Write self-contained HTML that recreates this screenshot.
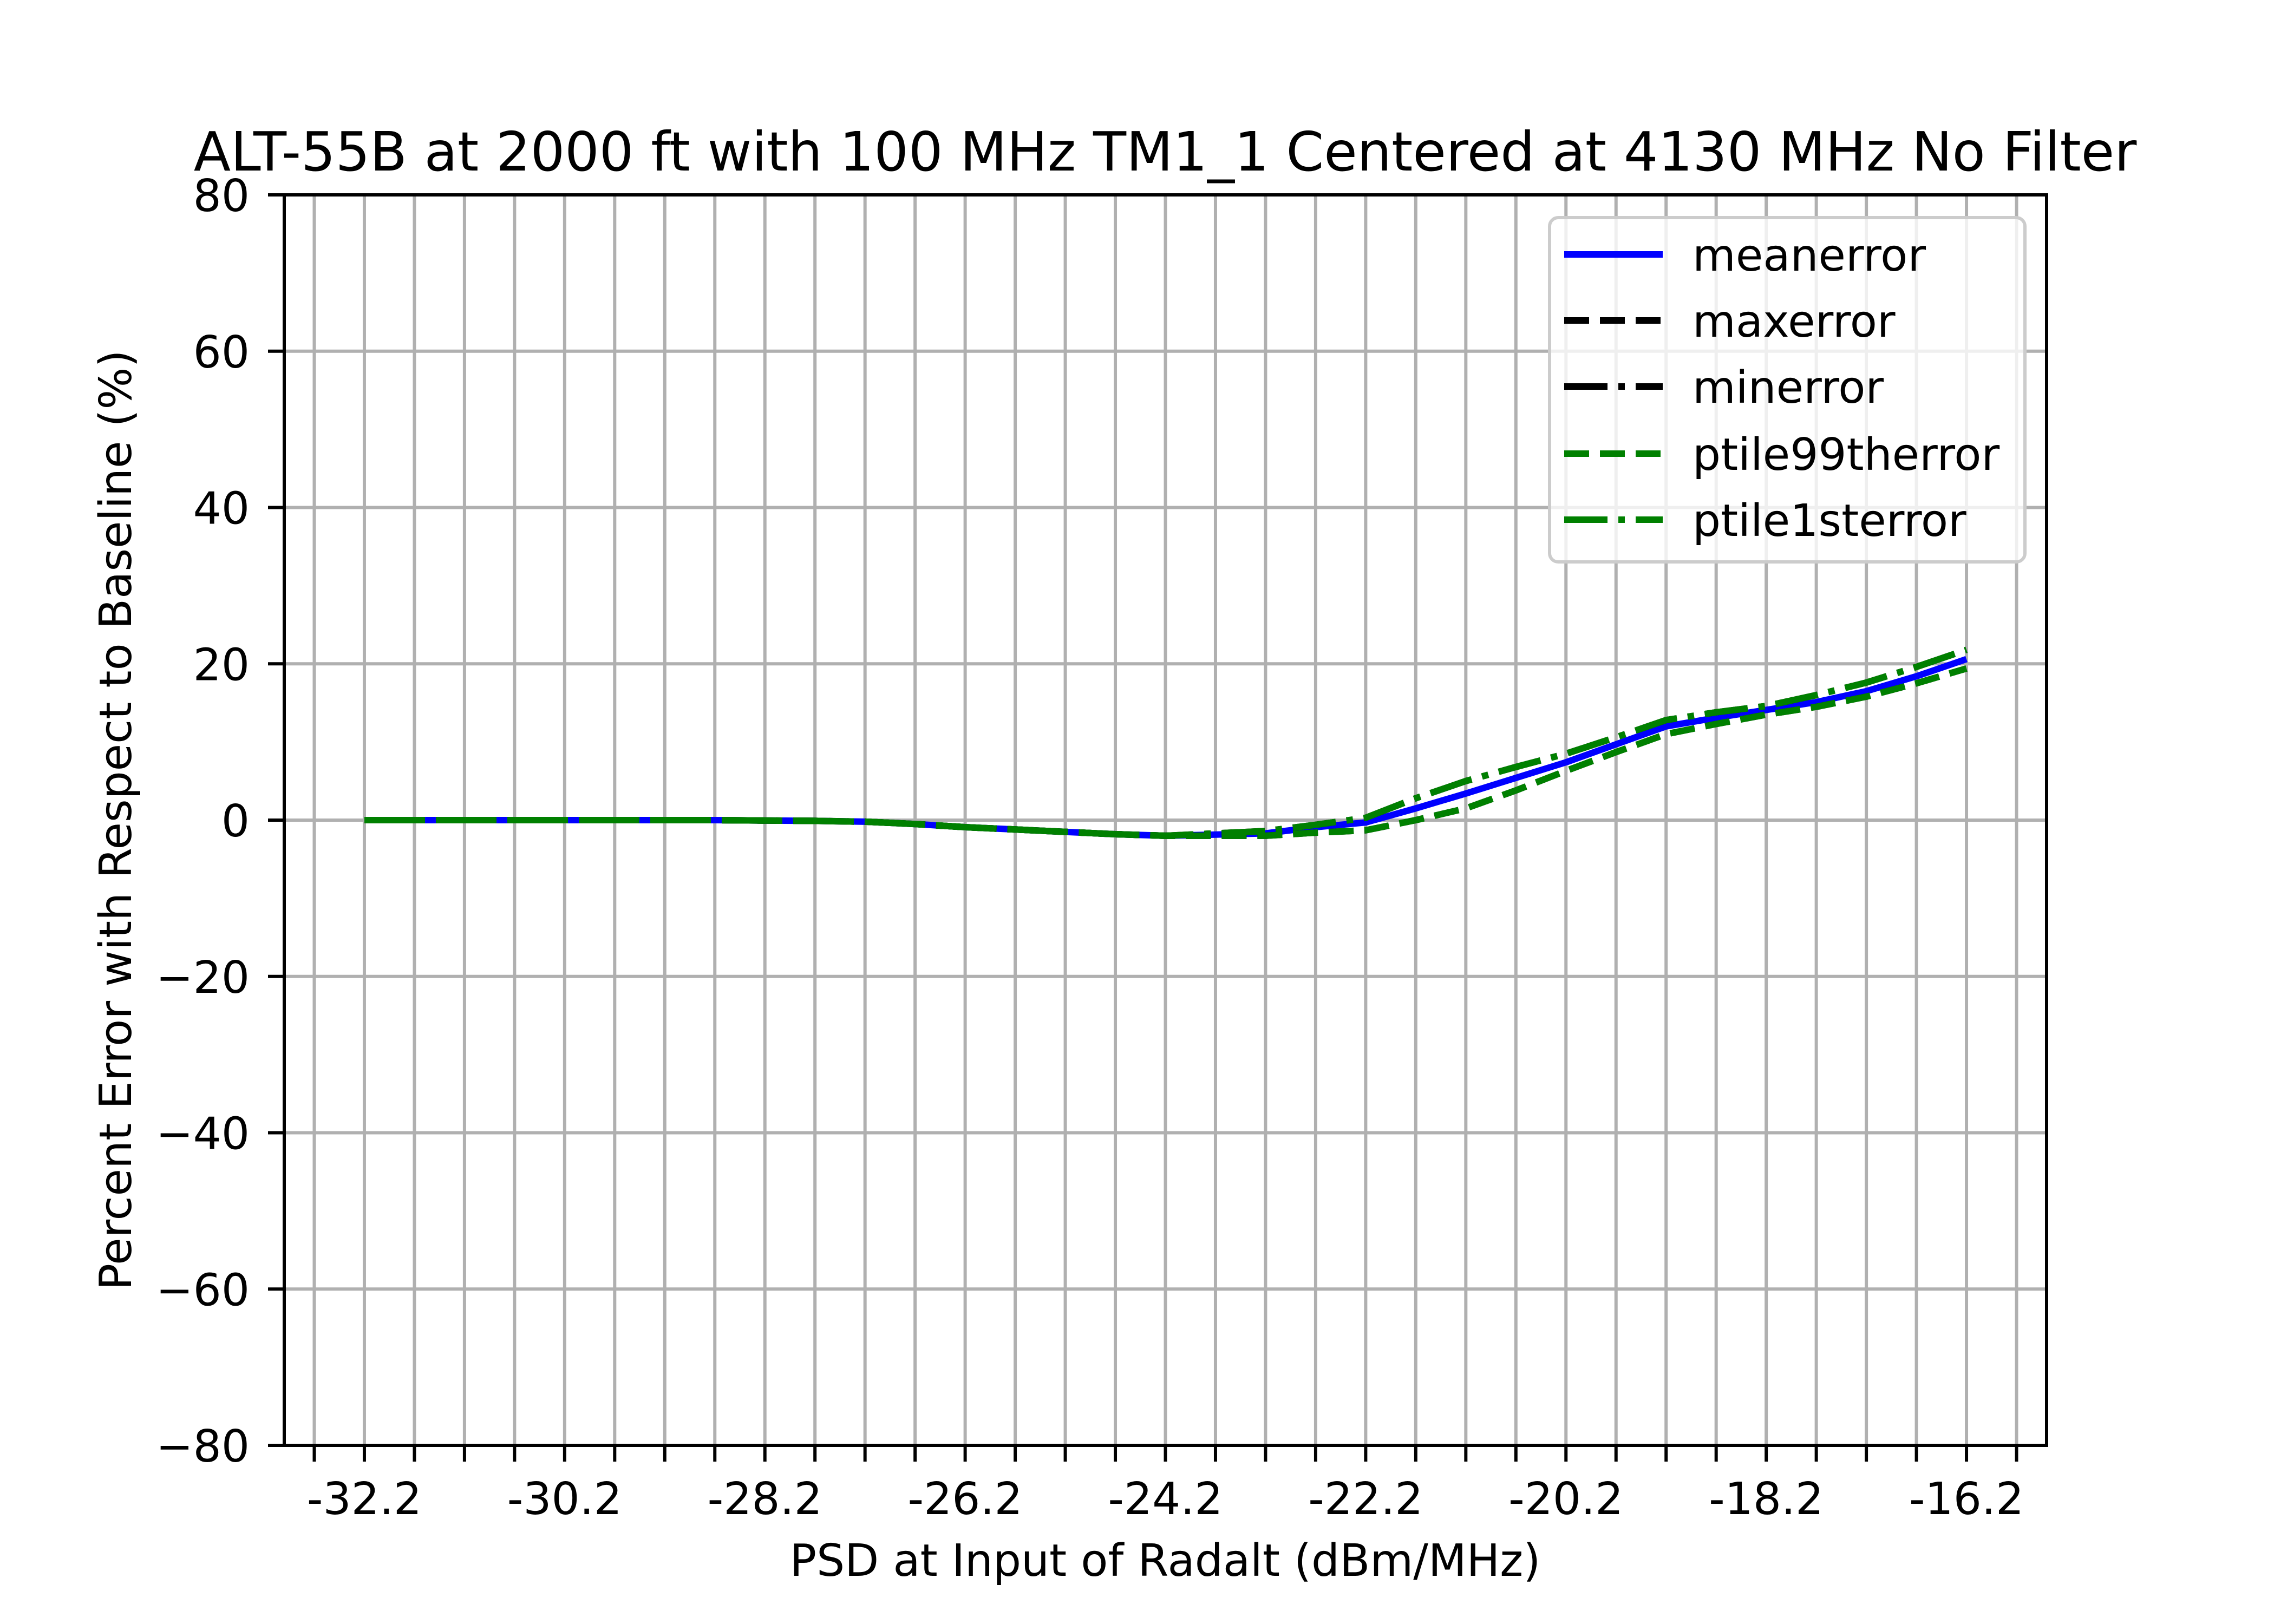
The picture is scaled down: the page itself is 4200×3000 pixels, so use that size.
<!DOCTYPE html>
<html><head><meta charset="utf-8"><style>
html,body{margin:0;padding:0;background:#fff}
svg{display:block;font-family:"DejaVu Sans","Liberation Sans",sans-serif}
</style></head><body>
<svg id="chart" width="4200" height="3000" viewBox="0 0 4200 3000" xmlns="http://www.w3.org/2000/svg">
<rect width="4200" height="3000" fill="#fff"/>
<g id="grid"></g>
<g id="series"></g>
<g id="axes"></g>
<text x="2152" y="315" font-size="100" text-anchor="middle">ALT-55B at 2000 ft with 100 MHz TM1_1 Centered at 4130 MHz No Filter</text>
<text x="2152" y="2911" font-size="82" text-anchor="middle">PSD at Input of Radalt (dBm/MHz)</text>
<text x="0" y="0" font-size="82" text-anchor="middle" transform="translate(242,1515) rotate(-90)">Percent Error with Respect to Baseline (%)</text>
<g id="legend"></g>
</svg>
<script>
const xValues = [-32.2,-31.7,-31.2,-30.7,-30.2,-29.7,-29.2,-28.7,-28.2,-27.7,-27.2,-26.7,-26.2,-25.7,-25.2,-24.7,-24.2,-23.7,-23.2,-22.7,-22.2,-21.7,-21.2,-20.7,-20.2,-19.7,-19.2,-18.7,-18.2,-17.7,-17.2,-16.7,-16.2];
const meanError = [0,0,0,0,0,0,0,0,-0.05,-0.1,-0.2,-0.5,-0.9,-1.2,-1.5,-1.8,-2.0,-1.85,-1.7,-0.9,-0.3,1.5,3.4,5.4,7.4,9.7,12.0,13.1,14.1,15.1,16.5,18.4,20.6];
const maxError = [0,0,0,0,0,0,0,0,-0.05,-0.1,-0.2,-0.5,-0.9,-1.2,-1.5,-1.8,-2.0,-2.0,-2.0,-1.6,-1.3,0,1.5,3.8,6.3,8.7,11.0,12.3,13.5,14.5,15.8,17.5,19.4];
const minError = [0,0,0,0,0,0,0,0,-0.05,-0.1,-0.2,-0.5,-0.9,-1.2,-1.5,-1.8,-2.0,-1.7,-1.4,-0.6,0.3,2.8,5.0,6.8,8.5,10.6,12.8,13.8,14.6,16.0,17.6,19.6,21.8];
const p99Error = [0,0,0,0,0,0,0,0,-0.05,-0.1,-0.2,-0.5,-0.9,-1.2,-1.5,-1.8,-2.0,-2.0,-2.0,-1.6,-1.3,0,1.5,3.8,6.3,8.7,11.0,12.3,13.5,14.5,15.8,17.5,19.4];
const p1Error = [0,0,0,0,0,0,0,0,-0.05,-0.1,-0.2,-0.5,-0.9,-1.2,-1.5,-1.8,-2.0,-1.7,-1.4,-0.6,0.3,2.8,5.0,6.8,8.5,10.6,12.8,13.8,14.6,16.0,17.6,19.6,21.8];
const xTickValues = [-32.7,-32.2,-31.7,-31.2,-30.7,-30.2,-29.7,-29.2,-28.7,-28.2,-27.7,-27.2,-26.7,-26.2,-25.7,-25.2,-24.7,-24.2,-23.7,-23.2,-22.7,-22.2,-21.7,-21.2,-20.7,-20.2,-19.7,-19.2,-18.7,-18.2,-17.7,-17.2,-16.7,-16.2,-15.7];
const xTickLabels = ["-32.2","-30.2","-28.2","-26.2","-24.2","-22.2","-20.2","-18.2","-16.2"];
const yTickValues = [-80,-60,-40,-20,0,20,40,60,80];
const legendLabels = ["meanerror","maxerror","minerror","ptile99therror","ptile1sterror"];

const NS="http://www.w3.org/2000/svg";
const L=525,R=3780,T=360,B=2670,XMIN=-33.0,XMAX=-15.4,YMIN=-80,YMAX=80;
const sx=v=>L+(v-XMIN)/(XMAX-XMIN)*(R-L);
const sy=v=>B-(v-YMIN)/(YMAX-YMIN)*(B-T);
function mk(tag,attrs,parent){const e=document.createElementNS(NS,tag);for(const k in attrs)e.setAttribute(k,attrs[k]);parent.appendChild(e);return e;}
const grid=document.getElementById('grid'),axes=document.getElementById('axes'),series=document.getElementById('series'),legend=document.getElementById('legend');

xTickValues.forEach(v=>{
  const g=mk('line',{x1:sx(v),x2:sx(v),y1:T,y2:B,stroke:'#b0b0b0','stroke-width':6},grid);
  
  
  const t=mk('line',{x1:sx(v),x2:sx(v),y1:B,y2:B+30,stroke:'#000','stroke-width':6},axes);
  
  
});
xTickLabels.forEach(s=>{
  const v=parseFloat(s);
  const t=mk('text',{x:sx(v),y:2797,'font-size':82,'text-anchor':'middle'},axes);
  t.textContent=s;
  
  
});
yTickValues.forEach(v=>{
  const g=mk('line',{x1:L,x2:R,y1:sy(v),y2:sy(v),stroke:'#b0b0b0','stroke-width':6},grid);
  
  
  const t=mk('line',{x1:L-30,x2:L,y1:sy(v),y2:sy(v),stroke:'#000','stroke-width':6},axes);
  
  
  const tx=mk('text',{x:461,y:sy(v)+30,'font-size':82,'text-anchor':'end'},axes);
  tx.textContent=(v<0?'\u2212':'')+Math.abs(v);
  
  
});
const frame=mk('rect',{x:L,y:T,width:R-L,height:B-T,fill:'none',stroke:'#000','stroke-width':6},axes);



const styles=[
  {data:meanError,color:'#0000ff',dash:'',name:'mean-error-line'},
  {data:maxError,color:'#000',dash:'46 20',name:'max-error-line'},
  {data:minError,color:'#000',dash:'80 20 12 20',name:'min-error-line'},
  {data:p99Error,color:'#008000',dash:'46 20',name:'ptile99-error-line'},
  {data:p1Error,color:'#008000',dash:'80 20 12 20',name:'ptile1-error-line'}
];
styles.forEach(s=>{
  const d=s.data.map((v,i)=>(i?'L':'M')+sx(xValues[i]).toFixed(1)+' '+sy(v).toFixed(1)).join(' ');
  const p=mk('path',{d:d,fill:'none',stroke:s.color,'stroke-width':12,'stroke-dasharray':s.dash,'stroke-linejoin':'round'},series);
  
  
});

const box=mk('rect',{x:2862,y:402,width:878,height:636,rx:16,fill:'#fff','fill-opacity':0.8,stroke:'#cccccc','stroke-width':6},legend);


const rowsY=[470,592,714,838,960];
legendLabels.forEach((lab,i)=>{
  const s=styles[i];
  const h=mk('line',{x1:2889,x2:3071,y1:rowsY[i],y2:rowsY[i],stroke:s.color,'stroke-width':12,'stroke-dasharray':s.dash},legend);
  
  
  const t=mk('text',{x:3126,y:rowsY[i]+30,'font-size':82},legend);
  t.textContent=lab;
  
  
});
</script>
</body></html>
